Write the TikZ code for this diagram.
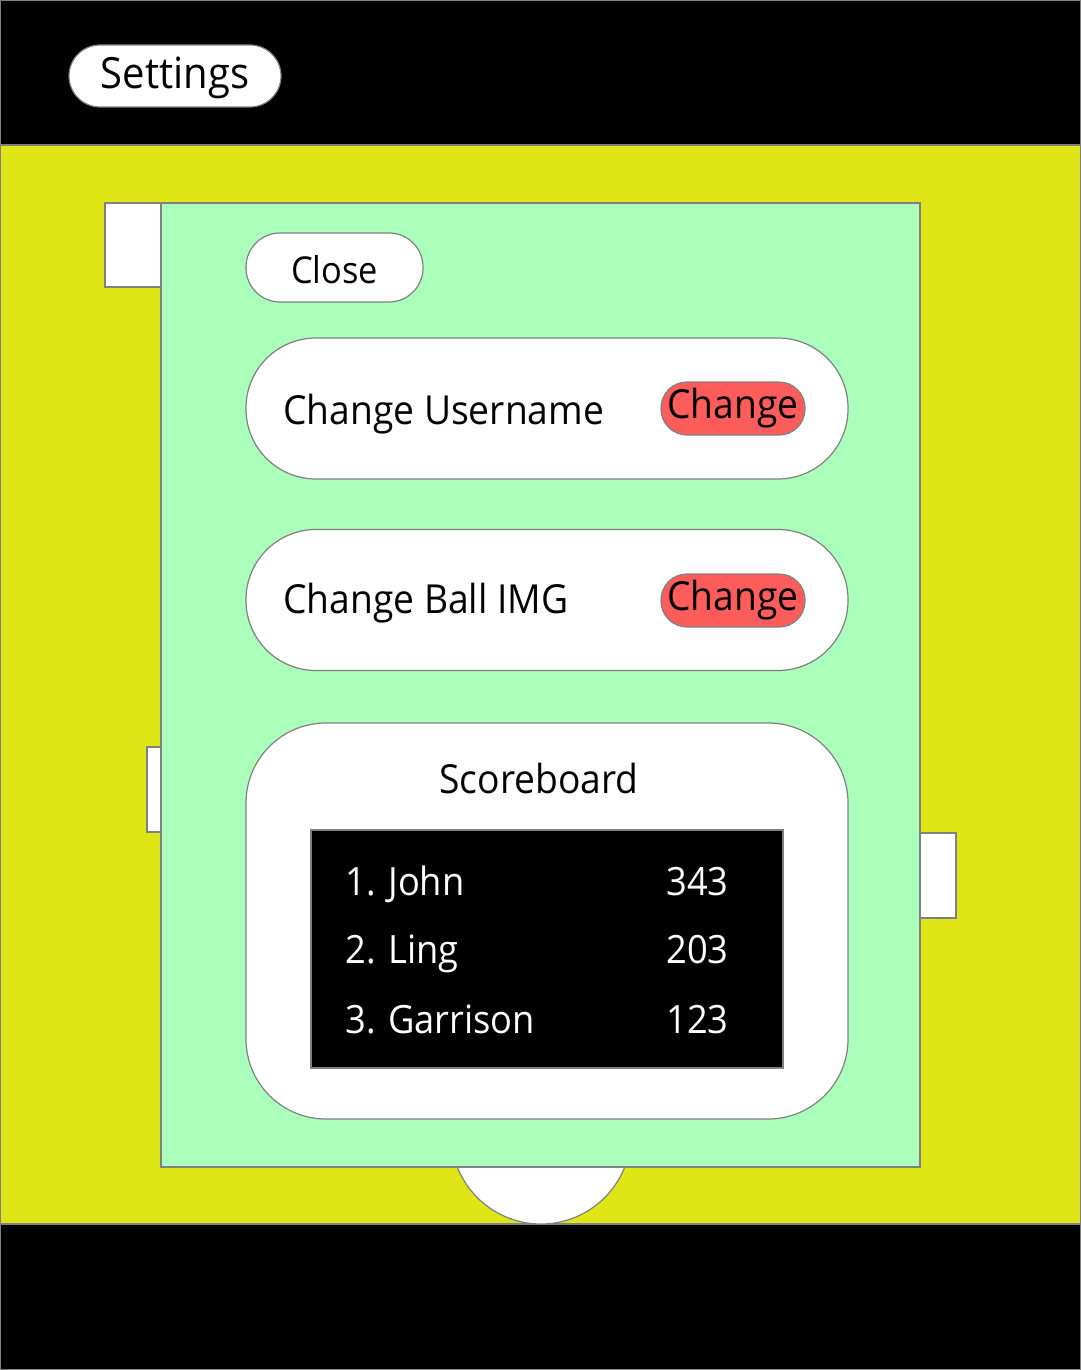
\documentclass[tikz,border=0pt]{standalone}
\usepackage{fontspec}
\setmainfont{Open Sans}[FakeStretch=0.93]
\definecolor{fieldyellow}{RGB}{224,229,21}
\definecolor{panelgreen}{RGB}{170,255,187}
\definecolor{btnred}{RGB}{255,92,92}

\begin{document}
\begin{tikzpicture}[x=0.5pt,y=-0.5pt,
	edge/.style={draw=gray,line width=0.6pt},
	pill/.style={edge,fill=white,rounded corners=#1,inner sep=0pt},
	redbtn/.style={edge,fill=btnred,rounded corners=13pt,minimum width=72pt,minimum height=26.5pt,inner sep=0pt,font=\fontsize{20}{24}\selectfont},
	lbl/.style={anchor=base west,inner sep=0pt,font=\fontsize{20}{24}\selectfont},
	score/.style={inner sep=0pt,text=white,font=\fontsize{19.5}{24}\selectfont}]
	\useasboundingbox (0,0) rectangle (1081,1370);
	\fill[black] (0,0) rectangle (1081,1370);
	\draw[edge,fill=fieldyellow] (0.5,145) rectangle (1080.5,1224);
	
	% things behind the panel
	\draw[edge,fill=white] (105,203) rectangle (161,287);
	\draw[edge,fill=white] (147,747) rectangle (161,832);
	\draw[edge,fill=white] (920,833) rectangle (956,918);
	\draw[edge,fill=white] (541,1134) circle (45pt);
	
	\draw[edge,fill=panelgreen] (161,203) rectangle (920,1167);
	
	\node[pill=15.5pt,minimum width=106pt,minimum height=31pt,text height=13pt,text depth=0pt,font=\fontsize{21.5}{26}\selectfont] (settings) at (175,76) {Settings};
	\node[pill=17pt,minimum width=88.5pt,minimum height=34.5pt,text height=15.5pt,text depth=0pt,font=\fontsize{18.5}{22}\selectfont] (close) at (334.5,267.5) {Close};
	
	% change rows
	\node[pill=35pt,minimum width=301pt,minimum height=70.5pt] (userrow) at (547,408.5) {};
	\node[lbl] (userlbl) at (283,424) {Change Username};
	\node[redbtn] (userbtn) at (733,408.5) {Change};
	\node[pill=35pt,minimum width=301pt,minimum height=70.5pt] (ballrow) at (547,600) {};
	\node[lbl] (balllbl) at (283,613) {Change Ball IMG};
	\node[redbtn] (ballbtn) at (733,600.5) {Change};
	
	% scoreboard
	\draw[edge,fill=white,rounded corners=40pt] (246,723) rectangle (848,1119);
	\node[lbl,anchor=base] (sbtitle) at (539,793) {Scoreboard};
	\draw[edge,fill=black] (311,830) rectangle (783,1068);
	\node[score,anchor=base west] (name1) at (345,895) {1. John};
	\node[score,anchor=base east] (pts1) at (729,895) {343};
	\node[score,anchor=base west] (name2) at (345,963) {2. Ling};
	\node[score,anchor=base east] (pts2) at (729,963) {203};
	\node[score,anchor=base west] (name3) at (345,1033) {3. Garrison};
	\node[score,anchor=base east] (pts3) at (729,1033) {123};
	
	\draw[edge] (0.5,0.5) rectangle (1080.5,1369.5);
\end{tikzpicture}
\end{document}
